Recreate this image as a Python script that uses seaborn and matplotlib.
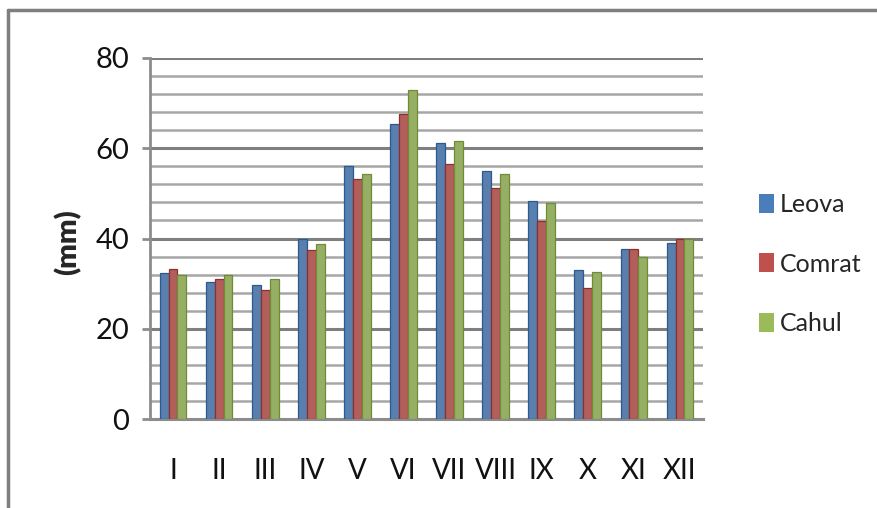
import matplotlib
matplotlib.use("Agg")
import matplotlib.pyplot as plt
import matplotlib.lines as mlines
import seaborn as sns
import pandas as pd

# Monthly precipitation (mm) at three stations
months = ["I", "II", "III", "IV", "V", "VI", "VII", "VIII", "IX", "X", "XI", "XII"]
leova = [32.3, 30.3, 29.7, 39.8, 56.0, 65.3, 61.2, 55.0, 48.3, 33.0, 37.6, 39.0]
comrat = [33.2, 31.1, 28.5, 37.4, 53.1, 67.5, 56.5, 51.1, 43.9, 29.1, 37.6, 40.0]
cahul = [31.9, 32.0, 31.1, 38.7, 54.2, 73.0, 61.7, 54.2, 47.9, 32.5, 35.9, 40.0]
stations = ["Leova", "Comrat", "Cahul"]
colors = ["#4A7EBB", "#C0504D", "#9BBB59"]
edges = ["#2C5A8F", "#8E2F2C", "#6E8C35"]

df = pd.DataFrame({
    "month": months * 3,
    "value": leova + comrat + cahul,
    "station": [s for s in stations for _ in months],
})

sns.set_theme(style="white")
plt.rcParams["font.family"] = ["Lato", "DejaVu Sans"]

fig = plt.figure(figsize=(8.77, 5.08), dpi=100)
ax = fig.add_axes([150 / 877, (508 - 419) / 508, (703 - 150) / 877, (419 - 58) / 508])

# horizontal gridlines every 4 mm, heavier every 20 mm
for v in range(4, 81, 4):
    major = v % 20 == 0
    ax.axhline(v, color="#7f7f7f" if major else "#a6a6a6",
               lw=2.2 if major else 1.8, zorder=0)

sns.barplot(data=df, x="month", y="value", hue="station", order=months,
            hue_order=stations, palette=colors, width=0.58, ax=ax,
            legend=False, zorder=3)

for i, cont in enumerate(ax.containers):
    for bar in cont:
        bar.set_edgecolor(edges[i])
        bar.set_linewidth(0.9)

ax.set_xlim(-0.5, 11.5)
ax.set_ylim(0, 80)
ax.set_yticks([0, 20, 40, 60, 80])
ax.set_xlabel("")
ax.set_ylabel("(mm)", fontsize=21, fontweight="heavy", va="center")
ax.yaxis.set_label_coords((68 - 150) / 553, (419 - 242) / 361)

for s in ["top", "right"]:
    ax.spines[s].set_visible(False)
ax.spines["left"].set_color("#8c8c8c")
ax.spines["left"].set_linewidth(2)
ax.spines["bottom"].set_color("#8c8c8c")
ax.spines["bottom"].set_linewidth(2.2)
ax.tick_params(axis="y", which="both", left=True, length=6, width=2,
               color="#8c8c8c", labelsize=21, pad=9, labelcolor="#111111")
ax.tick_params(axis="x", bottom=False, labelsize=20, pad=22, labelcolor="#111111")

# legend on the right
handles = [plt.Rectangle((0, 0), 1, 1, facecolor=c, edgecolor="none") for c in colors]
fig.legend(handles, stations, loc="center left", bbox_to_anchor=(736 / 877, 1 - 264 / 508),
           frameon=False, fontsize=18, handlelength=0.6, handleheight=0.8,
           handletextpad=0.25, labelspacing=1.45)

# outer frame on the left and top
fig.add_artist(mlines.Line2D([8 / 877, 8 / 877], [0, 1 - 10 / 508],
                             transform=fig.transFigure, color="#7f7f7f", lw=2.5))
fig.add_artist(mlines.Line2D([8 / 877, 1], [1 - 10 / 508, 1 - 10 / 508],
                             transform=fig.transFigure, color="#7f7f7f", lw=2.5))

fig.savefig("out.png", dpi=100, facecolor="white")
